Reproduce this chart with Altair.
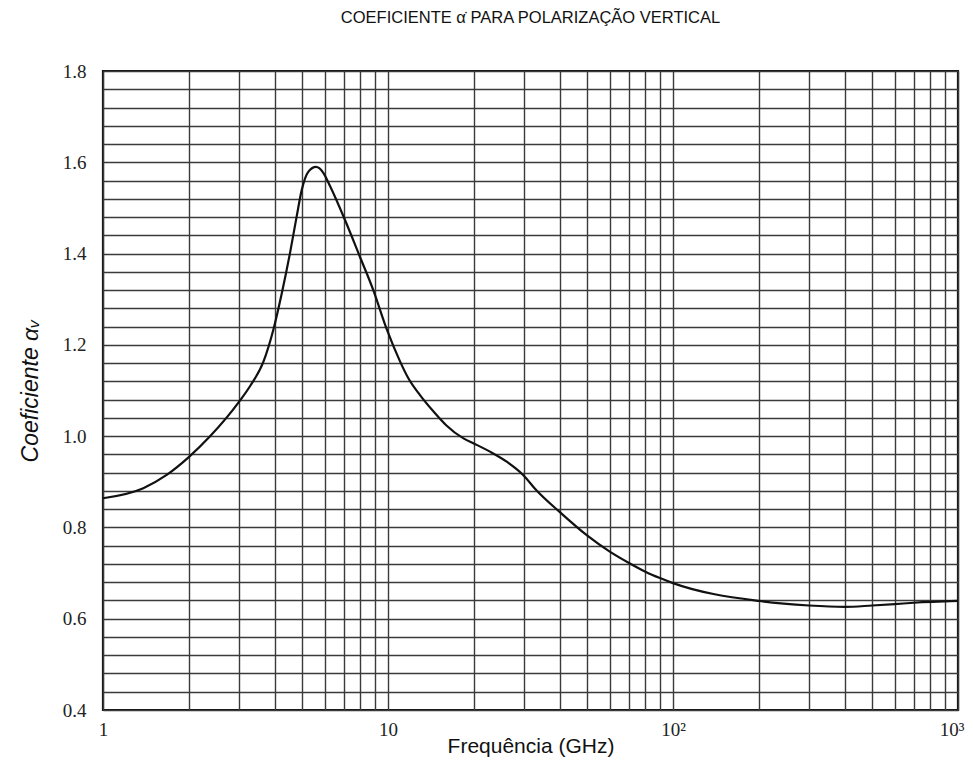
import altair as alt
import pandas as pd

freq = [1, 1.385, 1.673, 2, 2.37, 3, 3.3, 3.65, 3.96, 4.24, 4.53, 4.78, 4.98, 5.25, 5.59, 5.93, 6.26, 7.06, 7.97, 8.88, 9.89,
        11.0, 11.76, 12.95, 14.4, 16.0, 18.4, 20, 22.8, 26.1, 29.8, 33.1, 40, 49.8, 60, 70.6, 80, 90, 100, 200, 300, 400, 500, 600, 700, 1000]
coef = [0.864, 0.886, 0.915, 0.954, 0.999, 1.075, 1.112, 1.162, 1.233, 1.313, 1.401, 1.481, 1.539, 1.579, 1.590, 1.577, 1.548, 1.474, 1.393, 1.320, 1.235,
        1.165, 1.128, 1.090, 1.055, 1.024, 0.995, 0.984, 0.966, 0.944, 0.915, 0.882, 0.834, 0.783, 0.747, 0.721, 0.703, 0.689, 0.678, 0.639, 0.629, 0.626, 0.629, 0.632, 0.635, 0.639]

x_grid = [1, 2, 3, 4, 5, 6, 7, 8, 9, 10, 20, 30, 40, 50, 60, 70, 80, 90, 100, 200, 300, 400, 500, 600, 700, 800, 900, 1000]
y_grid = [round(0.4 + 0.04 * i, 2) for i in range(36)]

df = pd.DataFrame({"f": freq, "a": coef})

serif = "Liberation Serif, Times New Roman, serif"
sans = "Liberation Sans, Arial, sans-serif"

line = alt.Chart(df).mark_line(color="#111", strokeWidth=2.2, interpolate="monotone").encode(
    x=alt.X("f:Q", scale=alt.Scale(type="log", domain=[1, 1000]),
            axis=alt.Axis(values=x_grid, grid=True, gridColor="#3a3a3a", gridWidth=1.4,
                          ticks=False, domain=False,
                          labelExpr="datum.value == 1 ? '1' : datum.value == 10 ? '10' : datum.value == 100 ? '10²' : datum.value == 1000 ? '10³' : ''",
                          labelFont=serif, labelFontSize=19, labelColor="#222",
                          labelAlign={"condition": {"test": "datum.value == 1000", "value": "right"}, "value": "center"},
                          labelOffset={"condition": {"test": "datum.value == 1000", "value": 6}, "value": 0},
                          labelPadding=10, labelFlush=False,
                          title="Frequência (GHz)", titleFont=sans, titleFontSize=21,
                          titleFontWeight="normal", titleColor="#111", titlePadding=-4)),
    y=alt.Y("a:Q", scale=alt.Scale(domain=[0.4, 1.8], nice=False, zero=False),
            axis=alt.Axis(values=y_grid, grid=True, gridColor="#3a3a3a", gridWidth=1.4,
                          ticks=False, domain=False,
                          labelExpr="abs(datum.value*5 - round(datum.value*5)) < 0.001 ? format(datum.value, '.1f') : ''",
                          labelFont=serif, labelFontSize=19, labelColor="#222",
                          labelPadding=17,
                          title="Coeficiente αᵥ", titleFont=sans, titleFontSize=23,
                          titleFontWeight="normal", titleFontStyle="italic", titleColor="#111",
                          titlePadding=20)),
)

chart = line.properties(
    width=855, height=639,
    autosize="none",
    padding={"left": 95, "top": 63, "right": 7, "bottom": 50},
    title=alt.TitleParams("COEFICIENTE α̇ PARA POLARIZAÇÃO VERTICAL", font=sans,
                          fontSize=16.5, fontWeight="normal", color="#111", anchor="middle", offset=36),
).configure_view(stroke="#111", strokeWidth=2.2)

chart.save("out.html", embed_options={"renderer": "svg", "actions": False})
